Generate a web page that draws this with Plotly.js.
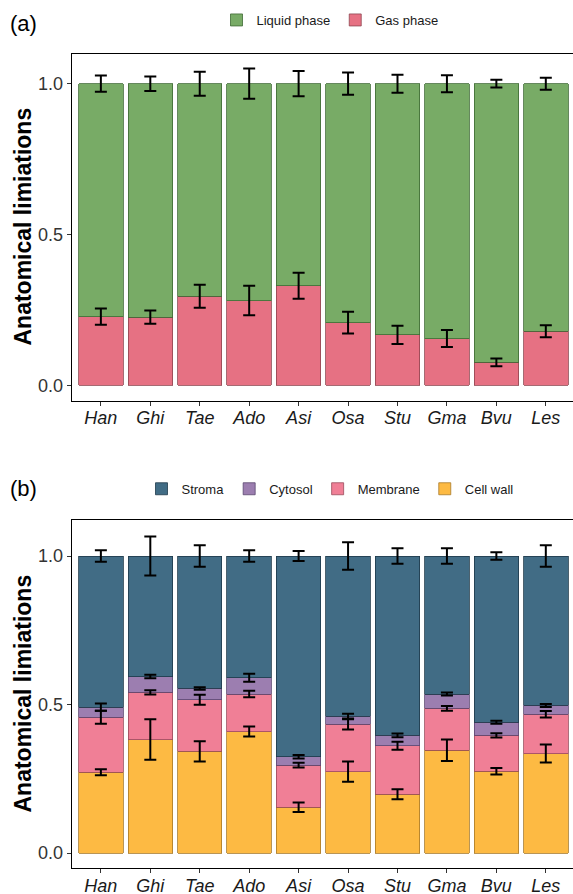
<!DOCTYPE html>
<html>
<head>
<meta charset="utf-8">
<script src="https://cdn.plot.ly/plotly-3.0.1.min.js"></script>
<style>
html,body{margin:0;padding:0;background:#fff;}
#chart{width:573px;height:894px;}
</style>
</head>
<body>
<div id="chart"></div>
<script>
// ---------- data ----------
const species = ['Han','Ghi','Tae','Ado','Asi','Osa','Stu','Gma','Bvu','Les'];

// panel (a)
const gasPhase     = [0.228,0.226,0.295,0.281,0.330,0.208,0.167,0.155,0.076,0.179];
const liquidPhase  = [0.772,0.774,0.705,0.719,0.670,0.792,0.833,0.845,0.924,0.821];
const gasErr       = [0.027,0.022,0.038,0.049,0.043,0.036,0.030,0.028,0.013,0.020];
const liquidErr    = [0.027,0.024,0.040,0.050,0.042,0.037,0.030,0.028,0.013,0.020];

// panel (b)
const cellWall     = [0.272,0.382,0.342,0.409,0.154,0.274,0.198,0.346,0.275,0.335];
const membrane     = [0.185,0.159,0.174,0.126,0.142,0.159,0.163,0.141,0.121,0.132];
const cytosol      = [0.034,0.053,0.038,0.055,0.028,0.028,0.035,0.048,0.044,0.030];
const stroma       = [0.509,0.406,0.446,0.410,0.676,0.539,0.604,0.465,0.560,0.503];
const cellWallErr  = [0.010,0.068,0.034,0.017,0.016,0.034,0.017,0.036,0.011,0.030];
const membraneErr  = [0.022,0.007,0.017,0.011,0.008,0.017,0.0135,0.008,0.007,0.011];
const cytosolErr   = [0.012,0.006,0.004,0.0135,0.006,0.008,0.006,0.005,0.005,0.005];
const stromaErr    = [0.019,0.066,0.036,0.019,0.017,0.046,0.026,0.026,0.013,0.036];

// ---------- helpers ----------
function cumsum(...arrs){
  return arrs[0].map((_,i)=>arrs.reduce((s,a)=>s+a[i],0));
}
const FONT = 'Liberation Sans, Arial, sans-serif';

function barTrace(name, y, fill, line, xa, ya, legend){
  return {type:'bar', name:name, x:species, y:y, xaxis:xa, yaxis:ya, legend:legend,
    marker:{color:fill, line:{color:line, width:0.8}}, hoverinfo:'name+y'};
}
function errTrace(yTop, err, xa, ya){
  return {type:'scatter', mode:'markers', x:species, y:yTop, xaxis:xa, yaxis:ya,
    marker:{size:1, opacity:0}, showlegend:false, hoverinfo:'skip',
    error_y:{type:'data', array:err, visible:true, color:'#000', thickness:2, width:6}};
}

const cGas = '#E67183', cGasL = '#8E4650';
const cLiq = '#78AB66', cLiqL = '#3F6A35';
const cStr = '#416C85', cStrL = '#1E3A4A';
const cCyt = '#9C7EB0', cCytL = '#5B4670';
const cMem = '#F07F96', cMemL = '#9A4B5B';
const cCw  = '#FDBA43', cCwL  = '#A87B2B';

const traces = [
  barTrace('Gas phase', gasPhase, cGas, cGasL, 'x', 'y', 'legend'),
  barTrace('Liquid phase', liquidPhase, cLiq, cLiqL, 'x', 'y', 'legend'),
  errTrace(cumsum(gasPhase), gasErr, 'x', 'y'),
  errTrace(cumsum(gasPhase, liquidPhase), liquidErr, 'x', 'y'),

  barTrace('Cell wall', cellWall, cCw, cCwL, 'x2', 'y2', 'legend2'),
  barTrace('Membrane', membrane, cMem, cMemL, 'x2', 'y2', 'legend2'),
  barTrace('Cytosol', cytosol, cCyt, cCytL, 'x2', 'y2', 'legend2'),
  barTrace('Stroma', stroma, cStr, cStrL, 'x2', 'y2', 'legend2'),
  errTrace(cumsum(cellWall), cellWallErr, 'x2', 'y2'),
  errTrace(cumsum(cellWall, membrane), membraneErr, 'x2', 'y2'),
  errTrace(cumsum(cellWall, membrane, cytosol), cytosolErr, 'x2', 'y2'),
  errTrace(cumsum(cellWall, membrane, cytosol, stroma), stromaErr, 'x2', 'y2')
];

const H = 894, W = 573;
function xAxis(anchor){
  return {anchor:anchor, domain:[71.7/W, 1], type:'category', range:[-0.59, 9.55],
    showline:true, mirror:true, linecolor:'#000', linewidth:1,
    ticks:'outside', ticklen:4, tickcolor:'#333', tickwidth:1,
    ticklabelstandoff:-3,
    showgrid:false, zeroline:false,
    tickfont:{family:FONT, size:18, color:'#1a1a1a', style:'italic'}};
}
function yAxis(anchor, top, bottom, range){
  return {anchor:anchor, domain:[(H-bottom)/H, (H-top)/H], range:range,
    tickvals:[0,0.5,1], ticktext:['0.0','0.5','1.0'],
    showline:true, mirror:true, linecolor:'#000', linewidth:1,
    ticks:'outside', ticklen:4, tickcolor:'#333', tickwidth:1,
    showgrid:false, zeroline:false,
    tickfont:{family:FONT, size:18, color:'#333'}};
}

const layout = {
  width:W, height:H, margin:{l:0,r:0,t:0,b:0},
  paper_bgcolor:'#fff', plot_bgcolor:'#fff',
  barmode:'stack', bargap:0.1,
  font:{family:FONT, color:'#1a1a1a'},
  xaxis: xAxis('y'),
  yaxis: yAxis('x', 53.5, 400.7, [-0.0511, 1.1001]),
  xaxis2: xAxis('y2'),
  yaxis2: yAxis('x2', 520, 868.3, [-0.0515, 1.1212]),
  legend:{orientation:'h', x:330/W, xanchor:'center', y:(H-20)/H, yanchor:'middle',
    traceorder:'reversed', font:{family:FONT, size:13, color:'#1a1a1a'}, bgcolor:'rgba(0,0,0,0)'},
  legend2:{orientation:'h', x:330/W, xanchor:'center', y:(H-488.8)/H, yanchor:'middle',
    traceorder:'reversed', font:{family:FONT, size:13, color:'#1a1a1a'}, bgcolor:'rgba(0,0,0,0)'},
  annotations:[
    {text:'(a)', xref:'paper', yref:'paper', x:8/W, xanchor:'left', y:(H-23.5)/H, yanchor:'middle',
      showarrow:false, font:{family:FONT, size:22, color:'#000'}},
    {text:'(b)', xref:'paper', yref:'paper', x:8/W, xanchor:'left', y:(H-488.8)/H, yanchor:'middle',
      showarrow:false, font:{family:FONT, size:22, color:'#000'}},
    {text:'<b>Anatomical limiations</b>', xref:'paper', yref:'paper', x:22.5/W, xanchor:'center',
      y:(H-227)/H, yanchor:'middle', textangle:-90, showarrow:false,
      font:{family:FONT, size:23, color:'#000'}},
    {text:'<b>Anatomical limiations</b>', xref:'paper', yref:'paper', x:22.5/W, xanchor:'center',
      y:(H-694)/H, yanchor:'middle', textangle:-90, showarrow:false,
      font:{family:FONT, size:23, color:'#000'}}
  ]
};

Plotly.newPlot('chart', traces, layout, {displayModeBar:false, staticPlot:true});
</script>
</body>
</html>
